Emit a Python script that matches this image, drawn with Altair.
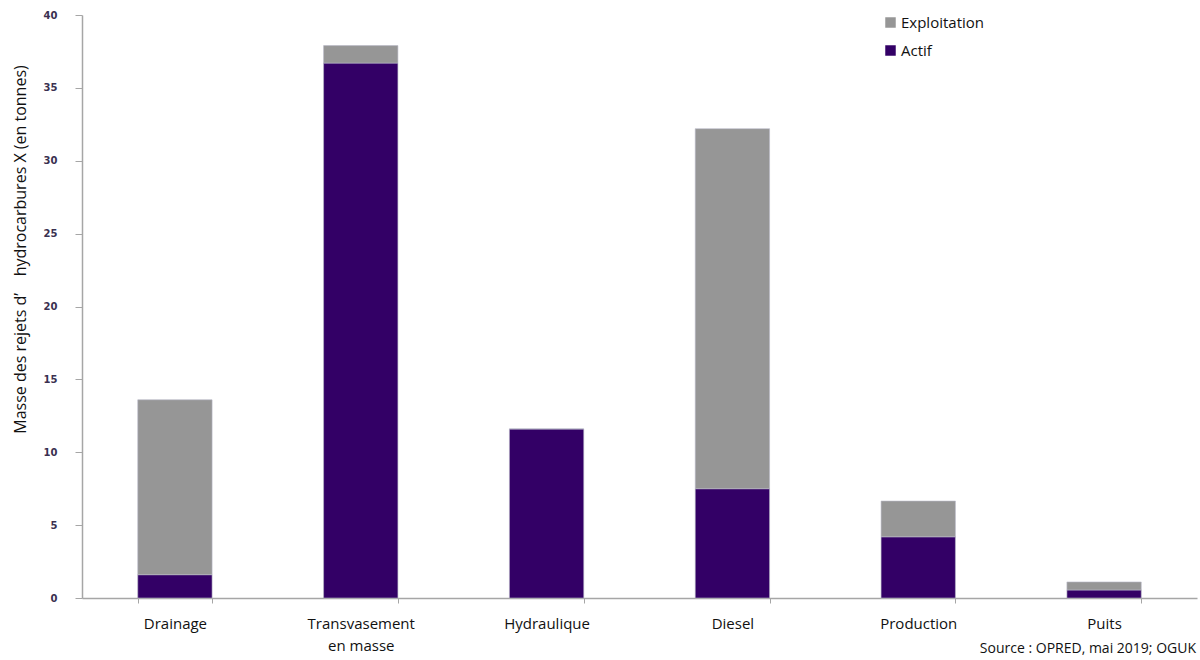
import altair as alt
import pandas as pd

# Hydrocarbon discharge mass per source, in tonnes
categories = ["Drainage", "Transvasement en masse", "Hydraulique", "Diesel", "Production", "Puits"]
actif = [1.6, 36.7, 11.6, 7.5, 4.2, 0.55]
exploitation = [12.0, 1.2, 0.0, 24.7, 2.45, 0.55]
series = ["Exploitation", "Actif"]
colors = ["#969696", "#330066"]
y_ticks = [0, 5, 10, 15, 20, 25, 30, 35, 40]
source_note = "Source : OPRED, mai 2019; OGUK"

rows = []
for cat, a, e in zip(categories, actif, exploitation):
    rows.append({"categorie": cat, "type": "Actif", "valeur": a, "ordre": 0})
    rows.append({"categorie": cat, "type": "Exploitation", "valeur": e, "ordre": 1})
df = pd.DataFrame(rows)

FONT = "Open Sans"

bars = alt.Chart(df).mark_bar(stroke="#b8b8c8", strokeWidth=0.6).encode(
    x=alt.X(
        "categorie:N",
        sort=categories,
        scale=alt.Scale(paddingInner=0.6, paddingOuter=0.3),
        axis=alt.Axis(
            title=None,
            labelAngle=0,
            tickBand="extent",
            tickSize=5,
            tickColor="#a6a6a6",
            domainColor="#a6a6a6",
            domainWidth=1.5,
            labelFont=FONT,
            labelFontSize=15,
            labelColor="#111111",
            labelPadding=13,
            labelLineHeight=22,
            labelExpr="datum.label == 'Transvasement en masse' ? ['Transvasement', 'en masse'] : datum.label",
        ),
    ),
    y=alt.Y(
        "valeur:Q",
        stack="zero",
        scale=alt.Scale(domain=[0, 40], nice=False),
        axis=alt.Axis(
            title="Masse des rejets d\u2019\u00a0\u00a0\u00a0\u00a0hydrocarbures X (en tonnes)",
            titleFont=FONT,
            titleFontSize=16,
            titleFontWeight="normal",
            titleColor="#111111",
            titleX=-57,
            titleY=234,
            titleAngle=270,
            titleAlign="center",
            titleBaseline="alphabetic",
            values=y_ticks,
            grid=False,
            tickSize=7,
            tickColor="#a6a6a6",
            domainColor="#a6a6a6",
            domainWidth=1.5,
            labelFont="DejaVu Sans",
            labelFontWeight="bold",
            labelFontSize=10,
            labelColor="#3a3050",
            labelPadding=18,
        ),
    ),
    color=alt.Color(
        "type:N",
        scale=alt.Scale(domain=series, range=colors),
        legend=alt.Legend(
            title=None,
            orient="none",
            legendX=801,
            legendY=0,
            symbolType="square",
            symbolSize=110,
            symbolStrokeWidth=0,
            labelFont=FONT,
            labelFontSize=15,
            labelColor="#111111",
            labelOffset=3,
            rowPadding=12,
        ),
    ),
    order=alt.Order("ordre:Q"),
)

note = alt.Chart(pd.DataFrame({"t": [source_note]})).mark_text(
    align="right", baseline="middle", font=FONT, fontSize=14, color="#111111"
).encode(text="t:N", x=alt.value(1114), y=alt.value(634))

chart = alt.layer(bars, note).properties(
    width=1115,
    height=583,
    autosize=alt.AutoSizeParams(type="none"),
    padding={"left": 82, "top": 15, "right": 3, "bottom": 62},
    background="white",
).configure_view(stroke=None)

chart.save("out.html", embed_options={"renderer": "svg", "actions": False})
